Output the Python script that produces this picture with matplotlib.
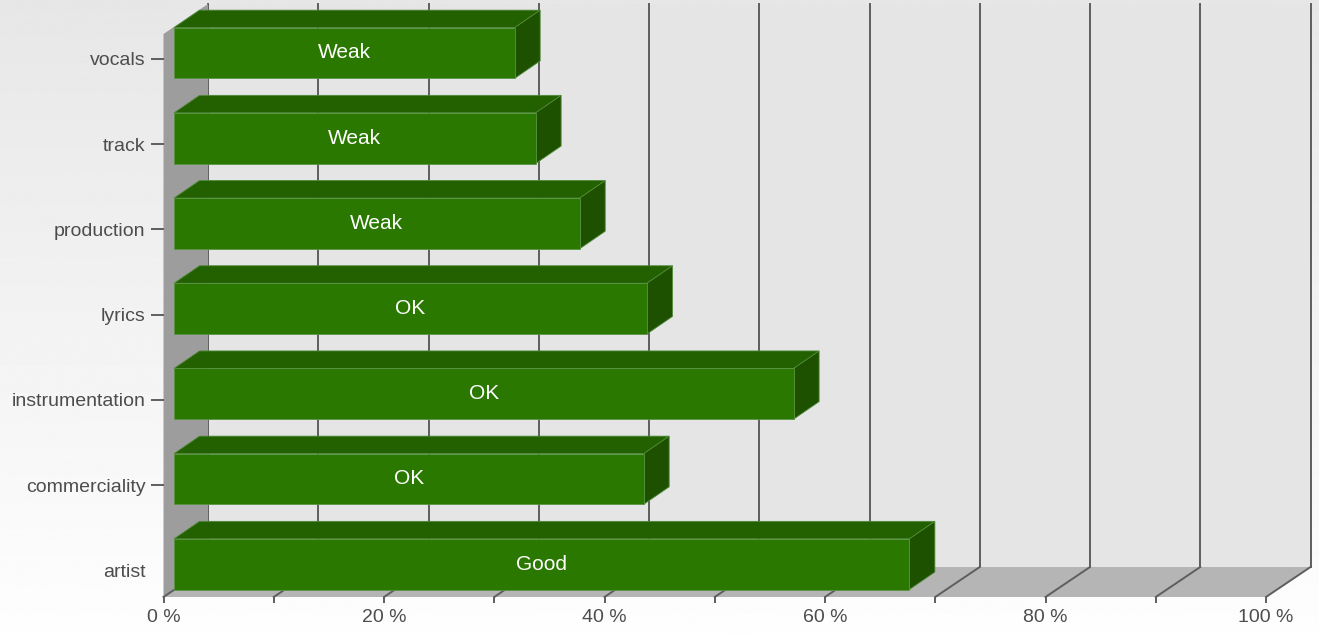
import numpy as np
import matplotlib
matplotlib.use("Agg")
import matplotlib.pyplot as plt
from matplotlib.patches import Polygon
from matplotlib.transforms import IdentityTransform, ScaledTranslation

categories = ["vocals", "track", "production", "lyrics", "instrumentation", "commerciality", "artist"]
values = [30.9, 32.8, 36.8, 42.9, 56.2, 42.6, 66.7]
ratings = ["Weak", "Weak", "Weak", "OK", "OK", "OK", "Good"]
x_ticks = list(range(0, 101, 10))
x_labels = ["0 %", "", "20 %", "", "40 %", "", "60 %", "", "80 %", "", "100 %"]

W, H = 1319, 633
fig = plt.figure(figsize=(W / 100, H / 100), dpi=100)

# background gradient
bg = fig.add_axes([0, 0, 1, 1], zorder=-10)
grad = np.linspace(0.905, 0.995, 256)[:, None]
bg.imshow(grad, cmap="gray", vmin=0, vmax=1, aspect="auto", extent=[0, 1, 0, 1])
bg.axis("off")

# front plane of the 3d box
left, right, top, bottom = 163.5, 1266, 34, 597
ax = fig.add_axes([left / W, 1 - bottom / H, (right - left) / W, (bottom - top) / H])
ax.set_xlim(0, 100)
ytop, ybot = -(59 - top) / 85.2, (bottom - 59) / 85.2
ax.set_ylim(ybot, ytop)
ax.set_facecolor("none")
for s in ax.spines.values():
    s.set_visible(False)

DX, DY = 44.5, 30  # full depth in pixels
ident = IdentityTransform()


def P(x, y, dx=0.0, dy=0.0):
    px, py = ax.transData.transform((x, y))
    return (px + dx, py + dy)


def poly(pts, fc, ec="none", lw=0, z=1):
    ax.add_patch(Polygon(pts, closed=True, facecolor=fc, edgecolor=ec, linewidth=lw,
                         transform=ident, clip_on=False, zorder=z))


def line(p1, p2, z=2):
    ax.add_line(plt.Line2D([p1[0], p2[0]], [p1[1], p2[1]], color="#5e5e5e", linewidth=1.4,
                           transform=ident, clip_on=False, zorder=z))


# back wall
poly([P(0, ybot, DX, DY), P(100, ybot, DX, DY), P(100, ytop, DX, DY), P(0, ytop, DX, DY)], "#e5e5e5", z=0.5)
for t in x_ticks:
    line(P(t, ybot, DX, DY), P(t, ytop, DX, DY), z=0.8)
# left wall
poly([P(0, ytop), P(0, ytop, DX, DY), P(0, ybot, DX, DY), P(0, ybot)], "#9d9d9d", z=0.9)
# floor
poly([P(0, ybot), P(100, ybot), P(100, ybot, DX, DY), P(0, ybot, DX, DY)], "#b5b5b5", z=0.9)
for t in x_ticks:
    line(P(t, ybot), P(t, ybot, DX, DY), z=1)

# bars
hb = 0.595 / 2
f_dx, f_dy = 10.5, 6
b_dx, b_dy = 36, 23.5
for i, (v, r) in enumerate(zip(values, ratings)):
    yt, yb = i - hb, i + hb
    poly([P(0, yt, f_dx, f_dy), P(v, yt, f_dx, f_dy), P(v, yt, b_dx, b_dy), P(0, yt, b_dx, b_dy)],
         "#236000", "#4f8a38", 0.6, z=3)
    poly([P(v, yt, f_dx, f_dy), P(v, yb, f_dx, f_dy), P(v, yb, b_dx, b_dy), P(v, yt, b_dx, b_dy)],
         "#1d5100", "#4f8a38", 0.6, z=3)
    poly([P(0, yb, f_dx, f_dy), P(v, yb, f_dx, f_dy), P(v, yt, f_dx, f_dy), P(0, yt, f_dx, f_dy)],
         "#2a7800", "#5a9444", 0.6, z=3.5)
    off = ax.transData + ScaledTranslation(f_dx / 100, f_dy / 100, fig.dpi_scale_trans)
    ax.text(v / 2, i, r, transform=off, ha="center", va="center", color="white",
            fontsize=15, family="Liberation Sans", zorder=5)

# axes ticks and labels
ax.set_yticks(range(len(categories)))
ax.set_yticklabels(categories, family="Liberation Sans", fontsize=14, color="#4d4d4d")
ax.tick_params(axis="y", length=9.5, width=1.4, color="#5e5e5e", pad=3.6)
ax.yaxis.get_major_ticks()[-1].tick1line.set_visible(False)
ax.set_xticks(x_ticks)
ax.set_xticklabels(x_labels, family="Liberation Sans", fontsize=14, color="#4d4d4d")
ax.tick_params(axis="x", length=4.3, width=1.4, color="#5e5e5e", pad=4.5)

fig.savefig("out.png", dpi=100)
